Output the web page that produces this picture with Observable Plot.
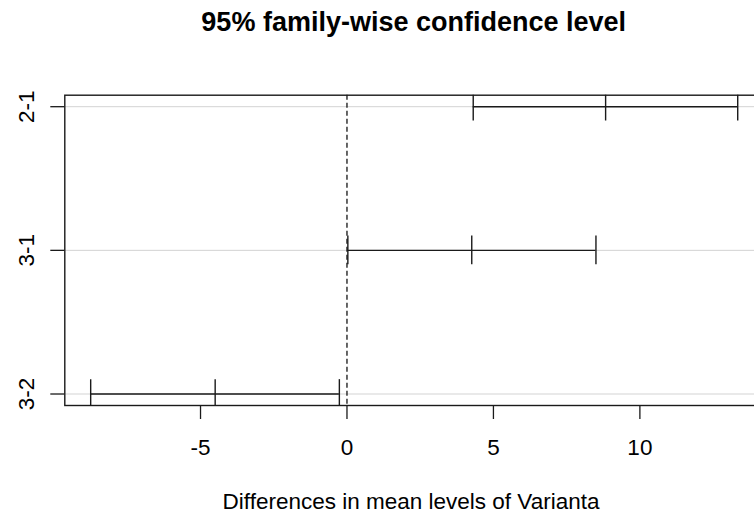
<!DOCTYPE html>
<html>
<head>
<meta charset="utf-8">
<script src="https://cdn.jsdelivr.net/npm/d3@7"></script>
<script src="https://cdn.jsdelivr.net/npm/@observablehq/plot@0.6"></script>
<style>
  html, body { margin: 0; padding: 0; background: #fff; }
  #wrap { position: relative; width: 754px; height: 515px; overflow: hidden; font-family: "Liberation Sans", Arial, sans-serif; }
  #title { position: absolute; left: 413.7px; top: 22px; transform: translate(-50%, -50%); font-size: 27px; font-weight: bold; white-space: nowrap; color: #000; }
  #xlabel { position: absolute; left: 411px; top: 502px; transform: translate(-50%, -50%); font-size: 22.5px; white-space: nowrap; color: #000; }
  #chart { position: absolute; left: 0; top: 0; width: 780px; height: 515px; }
  #chart svg { max-width: none !important; width: 780px; height: 515px; }
</style>
</head>
<body>
<div id="wrap">
  <div id="chart"></div>
  <div id="title">95% family-wise confidence level</div>
  <div id="xlabel">Differences in mean levels of Varianta</div>
</div>
<script>
// Comparisons (top to bottom) and their Tukey HSD intervals
const comparisons = ["2-1", "3-1", "3-2"];
const diff = [8.83, 4.26, -4.50];
const lwr = [4.31, 0.03, -8.75];
const upr = [13.34, 8.50, -0.26];
const xTicks = [-5, 0, 5, 10];

// R places comparison i at y = n - i (top is highest)
const n = comparisons.length;
const rows = comparisons.map((c, i) => ({comp: c, pos: n - i, diff: diff[i], lwr: lwr[i], upr: upr[i]}));
const ends = rows.flatMap(r => [r.lwr, r.diff, r.upr].map(v => ({pos: r.pos, v})));

// R's default 4% axis expansion
const lo = d3.min(lwr), hi = d3.max(upr);
const xDomain = [lo - 0.04 * (hi - lo), hi + 0.04 * (hi - lo)];
const yDomain = [1 - 0.04 * (n - 1), n + 0.04 * (n - 1)];

const ink = "#1a1a1a";

const chart = Plot.plot({
  width: 780,
  height: 515,
  marginLeft: 64.3,
  marginRight: 16.9,
  marginTop: 94.7,
  marginBottom: 110,
  style: {fontFamily: "'Liberation Sans', Arial, sans-serif", fontSize: "22.5px", color: ink, background: "transparent", maxWidth: "none"},
  x: {domain: xDomain, label: null},
  y: {domain: yDomain, label: null},
  marks: [
    Plot.ruleY(rows, {y: "pos", stroke: "#d3d3d3", strokeWidth: 1}),
    Plot.ruleX([0], {stroke: "#000", strokeWidth: 1.2, strokeDasharray: "5,3"}),
    Plot.ruleY(rows, {y: "pos", x1: "lwr", x2: "upr", stroke: ink, strokeWidth: 1.4}),
    Plot.ruleX(ends, {x: "v", y1: d => d.pos - 0.1, y2: d => d.pos + 0.1, stroke: ink, strokeWidth: 1.4, clip: true}),
    Plot.axisX({ticks: xTicks, tickFormat: d => String(d), tickSize: 14, tickPadding: 20, stroke: ink, strokeWidth: 1.3, fill: "#000", label: null}),
    Plot.axisY({ticks: rows.map(r => r.pos), tickFormat: v => comparisons[n - v], tickSize: 14, tickPadding: 17, tickRotate: -90, stroke: ink, strokeWidth: 1.3, fill: "#000", label: null}),
    Plot.frame({stroke: ink, strokeWidth: 1.4})
  ]
});
document.getElementById("chart").appendChild(chart);
</script>
</body>
</html>
